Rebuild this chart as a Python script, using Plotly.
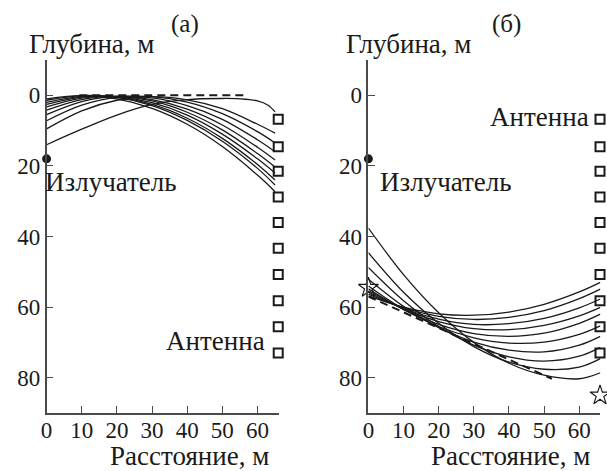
import plotly.graph_objects as go

W, H = 607, 471

# ---------------- data ----------------
tick_x = [0, 10, 20, 30, 40, 50, 60]
tick_y = [0, 20, 40, 60, 80]

antenna_x = 65.9
antenna_depths = [6.8, 14.6, 21.5, 28.8, 36.0, 43.3, 50.8, 58.2, 65.6, 73.0]
emitter_depth = 18.0

# panel (а)
a_x = [0, 10, 20, 30, 40, 50, 60, 65]
a_ray1 = [1.0, 0.1, 1.0, 3.7, 8.2, 14.5, 22.6, 27.3]
a_ray2 = [1.4, 0.1, 0.6, 2.9, 7.1, 13.0, 20.7, 25.4]
a_ray3 = [2.0, 0.3, 0.6, 2.6, 6.5, 12.2, 19.6, 24.0]
a_ray4 = [2.6, 0.5, 0.4, 2.1, 5.6, 11.0, 18.0, 22.0]
a_ray5 = [3.3, 0.8, 0.3, 1.6, 4.8, 9.8, 16.5, 20.3]
a_ray6 = [4.2, 1.2, 0.3, 1.2, 3.9, 8.4, 14.7, 18.3]
a_ray7 = [5.5, 1.8, 0.3, 0.7, 2.9, 6.8, 12.6, 16.0]
a_ray8 = [7.2, 2.8, 0.6, 0.4, 1.9, 5.2, 10.3, 13.5]
a_ray9 = [9.5, 4.4, 1.4, 0.4, 1.3, 3.8, 8.2, 10.7]
a_flat_x = [0, 10, 20, 30, 40, 50, 55, 60, 63, 65]
a_flat_y = [14.0, 9.6, 5.6, 2.6, 1.2, 0.9, 1.0, 1.6, 2.8, 4.7]
a_dash_x = [9.3, 56.6]
a_dash_y = [0.0, 0.0]

# panel (б)
b_x = [0, 10, 20, 30, 40, 50, 60, 66]
b_ray1 = [56.8, 60.0, 61.9, 62.3, 61.4, 59.2, 55.7, 53.0]
b_ray2 = [56.3, 60.2, 62.6, 63.5, 62.9, 61.0, 57.6, 54.9]
b_ray3 = [55.8, 60.4, 63.4, 64.9, 64.7, 63.2, 60.2, 57.7]
b_ray4 = [55.3, 60.5, 64.1, 66.1, 66.4, 65.2, 62.5, 60.1]
b_ray5 = [54.8, 60.7, 64.9, 67.5, 68.3, 67.4, 64.6, 62.0]
b_ray6 = [54.0, 60.6, 65.5, 68.7, 70.2, 69.9, 67.7, 65.3]
b_ray7 = [52.1, 59.8, 65.8, 69.9, 72.2, 72.7, 70.8, 68.3]
b_ray8 = [48.8, 58.2, 65.5, 70.8, 74.1, 75.3, 73.9, 71.4]
b_ray9 = [44.6, 55.8, 64.6, 71.2, 75.6, 77.6, 77.0, 74.6]
b_ray10 = [37.6, 50.8, 61.6, 70.0, 75.9, 79.3, 80.3, 78.6]
b_dash_x = [0.0, 52.2]
b_dash_y = [57.0, 80.3]
b_star_x = [0.0, 65.9]
b_star_y = [54.5, 85.0]

a_rays = [a_ray1, a_ray2, a_ray3, a_ray4, a_ray5, a_ray6, a_ray7, a_ray8, a_ray9]
b_rays = [b_ray1, b_ray2, b_ray3, b_ray4, b_ray5, b_ray6, b_ray7, b_ray8, b_ray9, b_ray10]

# ---------------- figure ----------------
FONT = "Liberation Serif"
INK = "#1a1a1a"
AXC = "#4a4a4a"
fig = go.Figure()

line_style = dict(color=INK, width=1.3, shape="spline", smoothing=1.0)

def add_line(x, y, xa, ya, line=None):
    fig.add_trace(go.Scatter(x=x, y=y, mode="lines", line=line or line_style,
                             xaxis=xa, yaxis=ya, showlegend=False, hoverinfo="skip",
                             cliponaxis=False))

for r in a_rays:
    add_line(a_x, r, "x", "y")
add_line(a_flat_x, a_flat_y, "x", "y")
add_line(a_dash_x, a_dash_y, "x", "y", line=dict(color=INK, width=2, dash="8px,5px"))

for r in b_rays:
    add_line(b_x, r, "x2", "y2")
add_line(b_dash_x, b_dash_y, "x2", "y2", line=dict(color=INK, width=2, dash="8px,5px"))

for xa, ya in (("x", "y"), ("x2", "y2")):
    fig.add_trace(go.Scatter(x=[antenna_x] * len(antenna_depths), y=antenna_depths, mode="markers",
                             marker=dict(symbol="square-open", size=9, color=INK, line=dict(width=2)),
                             xaxis=xa, yaxis=ya, showlegend=False, cliponaxis=False, hoverinfo="skip"))
    fig.add_trace(go.Scatter(x=[0], y=[emitter_depth], mode="markers",
                             marker=dict(symbol="circle", size=9, color=INK),
                             xaxis=xa, yaxis=ya, showlegend=False, cliponaxis=False, hoverinfo="skip"))

fig.add_trace(go.Scatter(x=b_star_x, y=b_star_y, mode="markers",
                         marker=dict(symbol="star-open", size=15, color=INK, line=dict(width=1.2)),
                         xaxis="x2", yaxis="y2", showlegend=False, cliponaxis=False, hoverinfo="skip"))

tickfont = dict(family=FONT, size=23, color=INK)
ax_common = dict(showgrid=False, zeroline=False, showline=True, linecolor=AXC, linewidth=1.6,
                 ticks="inside", ticklen=7, tickwidth=1.3, tickcolor=AXC, tickfont=tickfont,
                 mirror=False)

ydom = [1 - 413 / H, 1 - 60 / H]
fig.update_layout(
    width=W, height=H, margin=dict(l=0, r=0, t=0, b=0),
    paper_bgcolor="white", plot_bgcolor="white",
    xaxis=dict(domain=[41.0 / W, 275.3 / W], range=[0, 66], tickvals=tick_x, anchor="y",
               ticklabelstandoff=-4, **ax_common),
    yaxis=dict(domain=ydom, range=[90, -10], tickvals=tick_y, anchor="x", **ax_common),
    xaxis2=dict(domain=[366 / W, 600.3 / W], range=[0, 66], tickvals=tick_x, anchor="y2",
                ticklabelstandoff=-4, **ax_common),
    yaxis2=dict(domain=ydom, range=[90, -10], tickvals=tick_y, anchor="x2", **ax_common),
)

def px_ann(text, px, py, size=27, xanchor="center"):
    fig.add_annotation(text=text, x=px / W, y=1 - py / H, xref="paper", yref="paper",
                       showarrow=False, xanchor=xanchor, yanchor="middle",
                       font=dict(family=FONT, size=size, color=INK))

px_ann("(а)", 181, 24, size=25)
px_ann("(б)", 505, 24, size=25)
px_ann("Глубина, м", 86, 44)
px_ann("Глубина, м", 407, 44)
px_ann("Расстояние, м", 185, 456)
px_ann("Расстояние, м", 510, 456)

def data_ann(text, x, y, xa, ya, xanchor, xshift=0):
    fig.add_annotation(text=text, x=x, y=y, xref=xa, yref=ya, showarrow=False,
                       xanchor=xanchor, yanchor="middle", xshift=xshift,
                       font=dict(family=FONT, size=27, color=INK))

data_ann("Излучатель", 0.0, 24.5, "x", "y", "left", xshift=-4)
data_ann("Излучатель", 2.6, 24.5, "x2", "y2", "left")
data_ann("Антенна", 62.6, 69.6, "x", "y", "right")
data_ann("Антенна", 63.4, 6.2, "x2", "y2", "right")

fig.write_html("out.html", config={"displayModeBar": False},
               post_script="document.body.style.margin='0px';document.body.style.padding='0px';")
